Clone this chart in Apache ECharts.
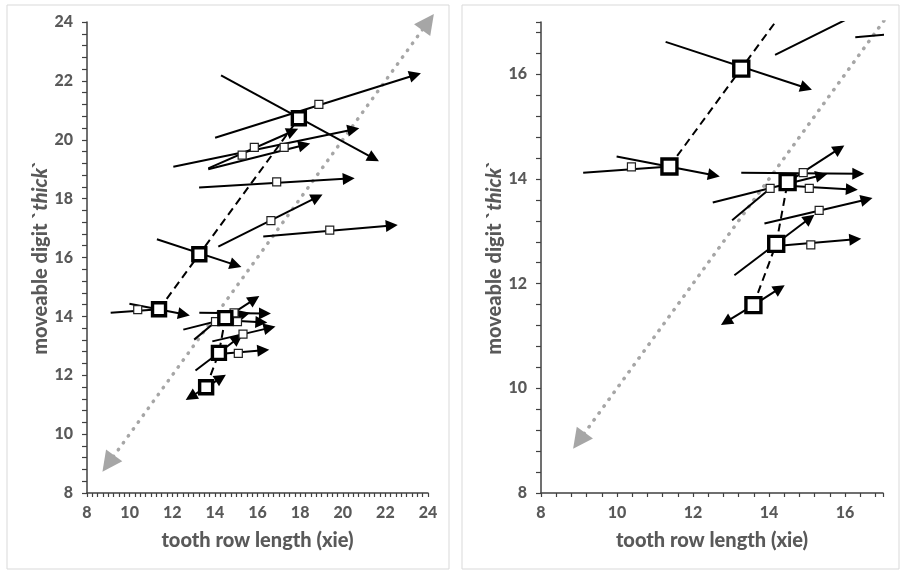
<!DOCTYPE html>
<html><head><meta charset="utf-8">
<script src="https://cdn.jsdelivr.net/npm/echarts@6/dist/echarts.min.js"></script>
<style>html,body{margin:0;padding:0;background:#fff}#c{width:904px;height:571px}</style>
</head><body><div id="c"></div>
<script>
// ---- data ----
const bigSquares = [[17.94,20.73],[13.27,16.11],[11.38,14.24],[14.49,13.94],[14.19,12.76],[13.59,11.59]];
const smallSquares = [[18.88,21.2],[15.28,19.48],[15.85,19.74],[17.25,19.74],[16.9,18.57],[16.63,17.25],[19.39,16.93],
  [10.38,14.23],[14.90,14.12],[14.03,13.82],[15.06,13.82],[15.32,13.40],[15.1,12.74]];
const arrowStarts = [[14.29,22.19],[14.01,20.07],[12.05,19.08],[13.69,19.03],[13.69,19.00],[13.26,18.38],[14.16,16.37],
  [16.27,16.71],[11.28,16.62],[9.99,14.43],[13.27,14.12],[14.49,13.94],[12.52,13.55],[14.49,13.87],[13.88,13.15],
  [13.09,12.16],[14.19,12.72],[13.59,11.59],[13.59,11.59]];
const arrowEnds = [[21.45,19.37],[23.4,22.2],[20.5,20.35],[17.65,20.29],[18.2,19.82],[20.28,18.68],[18.8,18.05],
  [22.3,17.09],[14.98,15.74],[12.55,14.07],[16.35,14.10],[15.85,14.58],[15.38,14.07],[16.18,13.80],[16.57,13.61],
  [15.07,13.25],[16.27,12.85],[14.28,11.91],[12.87,11.27]];
const plainStarts = [[9.11,14.12],[13.03,13.21]];
const plainEnds = [[11.39,14.24],[14.03,13.82]];
const trendLow = [[13.59,11.59],[14.19,12.76],[14.49,13.94]];
const trendHigh = [[11.38,14.24],[13.27,16.11],[17.94,20.73]];
const diagonal = [[9,9],[24,24]];
const xLabelsLeft = [8,10,12,14,16,18,20,22,24];
const yLabelsLeft = [8,10,12,14,16,18,20,22,24];
const xLabelsRight = [8,10,12,14,16];
const yLabelsRight = [8,10,12,14,16];

const FONT = 'Lato';
const GREY = '#595959';
const AX = '#404040';

function fmt(list){
  return function(v){
    for (const t of list) if (Math.abs(v - t) < 1e-6) return String(t);
    return '';
  };
}
function xAxisCfg(idx, max, step, labels){
  return {
    type:'value', gridIndex:idx, min:8, max:max, interval:step,
    axisLine:{show:true, onZero:false, lineStyle:{color:AX, width:1.5}},
    axisTick:{show:true, length:4, lineStyle:{color:AX, width:1.2}},
    axisLabel:{formatter:fmt(labels), color:GREY, fontWeight:900, fontSize:16, fontFamily:FONT, margin:12},
    splitLine:{show:false},
    name:'tooth row length (xie)', nameLocation:'middle', nameGap:38,
    nameTextStyle:{color:GREY, fontWeight:900, fontSize:20, fontFamily:FONT}
  };
}
function yAxisCfg(idx, max, step, labels){
  return {
    type:'value', gridIndex:idx, min:8, max:max, interval:step,
    axisLine:{show:true, onZero:false, lineStyle:{color:AX, width:1.5}},
    axisTick:{show:true, length:5, lineStyle:{color:AX, width:1.2}},
    axisLabel:{formatter:fmt(labels), color:GREY, fontWeight:900, fontSize:16, fontFamily:FONT, margin:14},
    splitLine:{show:false},
    name:'{n|moveable digit `}{i|thick}{n|`}', nameLocation:'middle', nameGap:36,
    nameTextStyle:{color:GREY, fontWeight:900, fontSize:20, fontFamily:FONT,
      rich:{n:{color:GREY, fontWeight:900, fontSize:20, fontFamily:FONT},
            i:{color:GREY, fontWeight:900, fontStyle:'italic', fontSize:20, fontFamily:FONT}}}
  };
}
function panelSeries(idx, clip, bigSize){
  return [
    {type:'lines', coordinateSystem:'cartesian2d', xAxisIndex:idx, yAxisIndex:idx, clip:clip, silent:true, z:1,
     symbol:['triangle','triangle'], symbolSize:20,
     lineStyle:{color:'#a6a6a6', width:3.5, opacity:1, type:[0.5,8], cap:'round'},
     itemStyle:{color:'#a6a6a6'},
     data:[{coords:diagonal}]},
    {type:'line', xAxisIndex:idx, yAxisIndex:idx, showSymbol:false, silent:true, z:2, clip:clip,
     lineStyle:{color:'#000', width:2, type:[8,5]}, data:trendLow},
    {type:'line', xAxisIndex:idx, yAxisIndex:idx, showSymbol:false, silent:true, z:2, clip:clip,
     lineStyle:{color:'#000', width:2, type:[8,5]}, data:trendHigh},
    {type:'lines', coordinateSystem:'cartesian2d', xAxisIndex:idx, yAxisIndex:idx, clip:clip, silent:true, z:3,
     symbol:['none','triangle'], symbolSize:12,
     lineStyle:{color:'#000', width:2, opacity:1},
     itemStyle:{color:'#000'},
     data:arrowStarts.map((s,k)=>({coords:[s, arrowEnds[k]]}))},
    {type:'lines', coordinateSystem:'cartesian2d', xAxisIndex:idx, yAxisIndex:idx, clip:clip, silent:true, z:3,
     symbol:['none','none'],
     lineStyle:{color:'#000', width:2, opacity:1},
     data:plainStarts.map((s,k)=>({coords:[s, plainEnds[k]]}))},
    {type:'scatter', xAxisIndex:idx, yAxisIndex:idx, silent:true, z:4, clip:clip,
     symbol:'rect', symbolSize:8,
     itemStyle:{color:'#fff', borderColor:'#222', borderWidth:1.2, opacity:1},
     data:smallSquares},
    {type:'scatter', xAxisIndex:idx, yAxisIndex:idx, silent:true, z:5, clip:clip,
     symbol:'rect', symbolSize:bigSize,
     itemStyle:{color:'#fff', borderColor:'#000', borderWidth:3.4, opacity:1},
     data:bigSquares}
  ];
}

const chart = echarts.init(document.getElementById('c'), null, {renderer:'canvas'});
chart.setOption({
  animation:false,
  backgroundColor:'#fff',
  graphic:[
    {type:'rect', shape:{x:7, y:5, width:442, height:564}, style:{fill:'none', stroke:'#d9d9d9', lineWidth:1}, silent:true},
    {type:'rect', shape:{x:462, y:5, width:437, height:564}, style:{fill:'none', stroke:'#d9d9d9', lineWidth:1}, silent:true}
  ],
  grid:[
    {left:87, top:22, width:341, height:471},
    {left:541, top:22, width:342, height:471}
  ],
  xAxis:[xAxisCfg(0,24,0.25,xLabelsLeft), xAxisCfg(1,17,0.4,xLabelsRight)],
  yAxis:[yAxisCfg(0,24,0.4,yLabelsLeft), yAxisCfg(1,17,0.4,yLabelsRight)],
  series:[].concat(panelSeries(0,false,13), panelSeries(1,true,15))
});
</script>
</body></html>
